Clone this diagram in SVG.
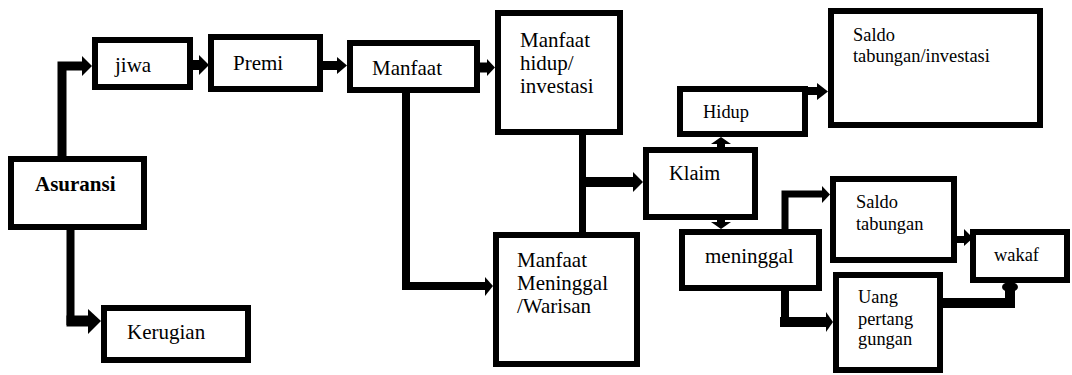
<svg xmlns="http://www.w3.org/2000/svg" width="1072" height="375" viewBox="0 0 1072 375">
<style>
.box{fill:#fff;stroke:#000;stroke-width:6}
.c{fill:none;stroke:#000;stroke-linejoin:miter;stroke-linecap:butt}
.h{fill:#000}
.t21{font-size:21px}
.t18{font-size:18.4px}
</style>
<rect width="1072" height="375" fill="#fff"/>
<g id="connectors">
  <path class="c" d="M62 156 V66 H84" stroke-width="9"/>
  <polygon class="h" points="82,56 92,66 82,76"/>
  <path class="c" d="M70.5 230 V321 H90" stroke-width="8"/>
  <path class="c" d="M66.5 321 H90" stroke-width="11"/>
  <polygon class="h" points="88,309 101,321 88,334"/>
  <path class="c" d="M193 65 H201" stroke-width="10"/>
  <polygon class="h" points="199,55 209,65 199,75"/>
  <path class="c" d="M323 65.5 H339" stroke-width="9"/>
  <polygon class="h" points="337,57 347,65.5 337,74"/>
  <path class="c" d="M480 67.5 H489" stroke-width="10"/>
  <polygon class="h" points="487,59 495,67.5 487,76"/>
  <path class="c" d="M406 93 V286 H487" stroke-width="8"/>
  <polygon class="h" points="485,277 493,286 485,296"/>
  <path class="c" d="M582.5 135 V232" stroke-width="7"/>
  <path class="c" d="M582 182 H635" stroke-width="10"/>
  <polygon class="h" points="633,172 643,182 633,192"/>
  <path class="c" d="M721 147 V143" stroke-width="8"/>
  <polygon class="h" points="711,144 721,137 731,144"/>
  <path class="c" d="M808 91 H819" stroke-width="8"/>
  <polygon class="h" points="817,83 828,91.5 817,100"/>
  <path class="c" d="M721 220 V223" stroke-width="8"/>
  <polygon class="h" points="711,222 721,229 731,222"/>
  <path class="c" d="M785 229 V194 H824" stroke-width="7"/>
  <polygon class="h" points="822,186 830,194.5 822,203"/>
  <path class="c" d="M785 291 V322 H828" stroke-width="8"/>
  <path class="c" d="M785 317 V322 H828" stroke-width="10"/>
  <polygon class="h" points="826,312 833,322 826,332"/>
  <path class="c" d="M957 239.5 H966" stroke-width="7"/>
  <polygon class="h" points="964,229 973,238 964,246"/>
  <path class="c" d="M943 303 H1010 V288" stroke-width="10"/>
  <ellipse class="h" cx="1010" cy="287" rx="8" ry="5"/>
</g>
<g font-family="Liberation Serif, 'Times New Roman', 'DejaVu Serif', serif" fill="#000">
<g id="asuransi"><rect class="box" x="11" y="159" width="133" height="68"/><text class="t21" x="35" y="191" font-weight="bold">Asuransi</text></g>
<g id="jiwa"><rect class="box" x="95" y="40" width="95" height="47"/><text class="t21" x="115" y="72">jiwa</text></g>
<g id="premi"><rect class="box" x="211" y="37" width="109" height="52"/><text class="t21" x="233" y="70">Premi</text></g>
<g id="manfaat"><rect class="box" x="350" y="43" width="127" height="47"/><text class="t21" x="372" y="75">Manfaat</text></g>
<g id="manfaat-hidup"><rect class="box" x="498" y="13" width="122" height="119"/><text class="t21" x="520" y="47">Manfaat</text><text class="t21" x="520" y="70">hidup/</text><text class="t21" x="520" y="93">investasi</text></g>
<g id="manfaat-meninggal"><rect class="box" x="496" y="235" width="141" height="129"/><text class="t21" x="517" y="267">Manfaat</text><text class="t21" x="517" y="290">Meninggal</text><text class="t21" x="517" y="313">/Warisan</text></g>
<g id="kerugian"><rect class="box" x="104" y="308" width="144" height="52"/><text class="t21" x="127" y="339">Kerugian</text></g>
<g id="klaim"><rect class="box" x="646" y="150" width="109" height="67"/><text x="669" y="180" font-size="20.5">Klaim</text></g>
<g id="hidup"><rect class="box" x="680" y="89" width="125" height="45"/><text class="t18" x="703" y="118">Hidup</text></g>
<g id="saldo-investasi"><rect class="box" x="831" y="11" width="209" height="114"/><text class="t18" x="853" y="41">Saldo</text><text class="t18" x="853" y="62">tabungan/investasi</text></g>
<g id="meninggal"><rect class="box" x="682" y="232" width="137" height="56"/><text class="t21" x="705" y="263">meninggal</text></g>
<g id="saldo-tabungan"><rect class="box" x="833" y="179" width="121" height="81"/><text class="t18" x="856" y="208">Saldo</text><text class="t18" x="856" y="230">tabungan</text></g>
<g id="uang-pertanggungan"><rect class="box" x="836" y="275" width="104" height="95"/><text class="t18" x="858" y="303">Uang</text><text class="t18" x="858" y="325">pertang</text><text class="t18" x="858" y="345">gungan</text></g>
<g id="wakaf"><rect class="box" x="973" y="232" width="94" height="48"/><text class="t18" x="994" y="261">wakaf</text></g>
</g>
</svg>
